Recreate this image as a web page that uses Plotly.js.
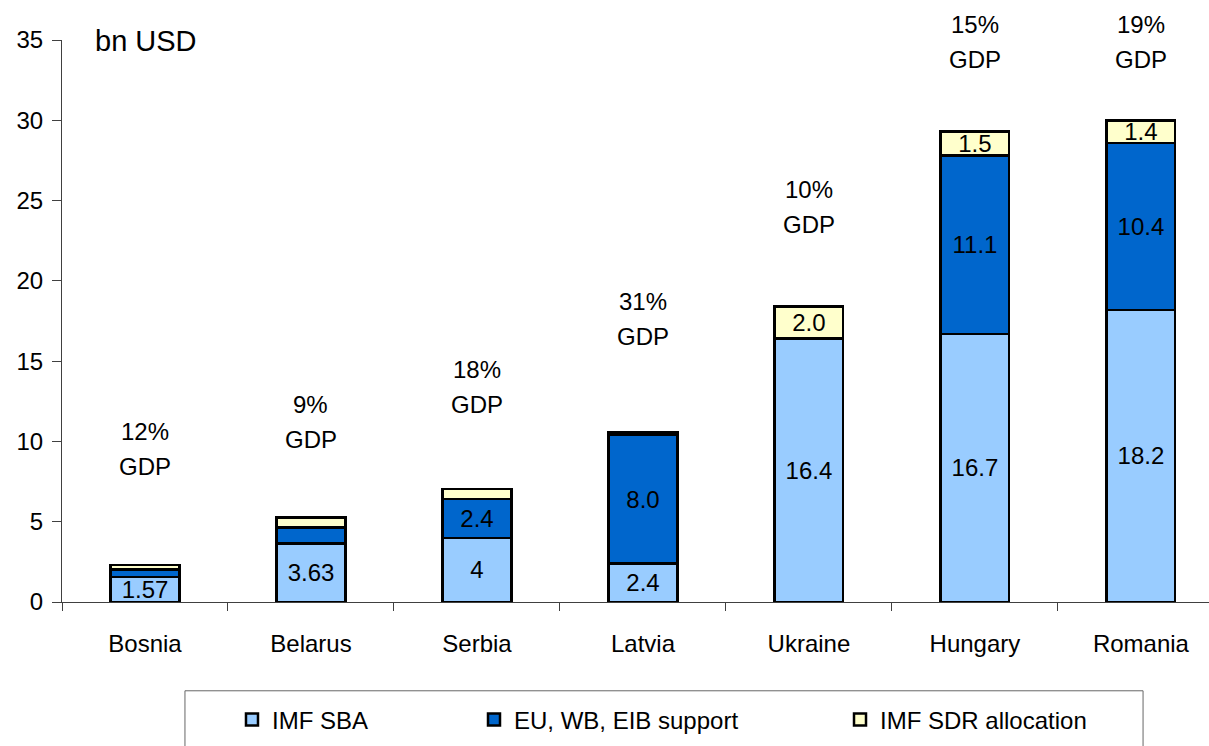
<!DOCTYPE html>
<html>
<head>
<meta charset="utf-8">
<script src="https://cdn.plot.ly/plotly-3.0.1.min.js"></script>
<style>html,body{margin:0;padding:0;background:#fff;}#chart{width:1209px;height:746px;}</style>
</head>
<body>
<div id="chart"></div>
<script>
const countries = ['Bosnia', 'Belarus', 'Serbia', 'Latvia', 'Ukraine', 'Hungary', 'Romania'];
const imfSba = [1.57, 3.63, 4.0, 2.4, 16.4, 16.7, 18.2];
const euSupport = [0.45, 1.0, 2.4, 8.0, 0, 11.1, 10.4];
const sdrAlloc = [0.3, 0.62, 0.65, 0.15, 2.0, 1.5, 1.4];
const imfText = ['1.57', '3.63', '4', '2.4', '16.4', '16.7', '18.2'];
const euText = ['', '', '2.4', '8.0', '', '11.1', '10.4'];
const sdrText = ['', '', '', '', '2.0', '1.5', '1.4'];
const gdpShare = ['12%', '9%', '18%', '31%', '10%', '15%', '19%'];
const gdpLabelY = [9.5, 11.24, 13.36, 17.62, 24.63, 34.9, 34.9];
const yTicks = [0, 5, 10, 15, 20, 25, 30, 35];

const FONT = 'Liberation Sans, Arial, sans-serif';
const barLine = {color: '#000', width: 2.5};
function barTrace(name, vals, txt, color, legend) {
  return {
    type: 'bar', name: name, x: countries, y: vals, text: txt,
    textposition: 'inside', insidetextanchor: 'middle', constraintext: 'none',
    textangle: 0, textfont: {family: FONT, size: 24, color: '#000'},
    marker: {color: color, line: barLine},
    hoverinfo: 'x+y+name', legend: legend, cliponaxis: false
  };
}
const traces = [
  barTrace('IMF SBA', imfSba, imfText, '#99CCFF', 'legend'),
  barTrace('EU, WB, EIB support', euSupport, euText, '#0066CC', 'legend2'),
  barTrace('IMF SDR allocation', sdrAlloc, sdrText, '#FFFFCC', 'legend3')
];

const annotations = [];
countries.forEach((c, i) => {
  annotations.push({x: c, y: gdpLabelY[i], xref: 'x', yref: 'y', text: gdpShare[i],
    showarrow: false, yshift: 17.5, font: {family: FONT, size: 24, color: '#000'}});
  annotations.push({x: c, y: gdpLabelY[i], xref: 'x', yref: 'y', text: 'GDP',
    showarrow: false, yshift: -17.5, font: {family: FONT, size: 24, color: '#000'}});
});
annotations.push({x: 0.027, y: 0.998, xref: 'paper', yref: 'paper', xanchor: 'left', yanchor: 'middle',
  text: 'bn USD', showarrow: false, font: {family: FONT, size: 29, color: '#000'}});

const legendBase = {orientation: 'h', xanchor: 'left', yanchor: 'middle', y: -0.21,
  bgcolor: 'rgba(0,0,0,0)', borderwidth: 0, font: {family: FONT, size: 24, color: '#000'}};

const layout = {
  width: 1209, height: 746,
  margin: {l: 62, r: 0, t: 40, b: 144},
  paper_bgcolor: '#fff', plot_bgcolor: '#fff',
  font: {family: FONT, size: 24, color: '#000'},
  barmode: 'stack', bargap: 0.587,
  showlegend: true,
  legend: Object.assign({}, legendBase, {x: 0.1482}),
  legend2: Object.assign({}, legendBase, {x: 0.3592}),
  legend3: Object.assign({}, legendBase, {x: 0.6783}),
  xaxis: {
    type: 'category', range: [-0.5, 6.41], showgrid: false, zeroline: false,
    showline: true, linecolor: '#404040', linewidth: 1,
    ticks: 'outside', tickson: 'boundaries', ticklen: 8, tickcolor: '#404040', tickwidth: 1,
    tickfont: {family: FONT, size: 24, color: '#000'}, ticklabelstandoff: 20
  },
  yaxis: {
    range: [0, 35], tickvals: yTicks, showgrid: false, zeroline: false,
    showline: true, linecolor: '#404040', linewidth: 1,
    ticks: 'outside', ticklen: 9, tickcolor: '#404040', tickwidth: 1,
    tickfont: {family: FONT, size: 24, color: '#000'}, ticklabelstandoff: 4
  },
  annotations: annotations,
  shapes: [{type: 'rect', xref: 'paper', yref: 'paper', x0: 0.1072, x1: 0.9425, y0: -0.30, y1: -0.158,
    line: {color: '#666', width: 1}, fillcolor: 'rgba(0,0,0,0)', layer: 'below'}]
};

Plotly.newPlot('chart', traces, layout, {displayModeBar: false, staticPlot: true});
</script>
</body>
</html>
